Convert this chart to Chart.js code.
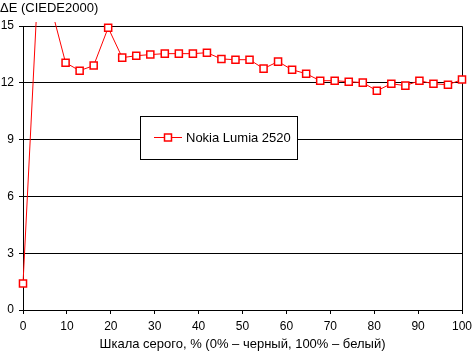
<!DOCTYPE html>
<html>
<head>
<meta charset="utf-8">
<script src="https://cdn.jsdelivr.net/npm/chart.js@4"></script>
<style>
html,body{margin:0;padding:0;background:#fff;}
canvas{display:block;}
</style>
</head>
<body>
<canvas id="c" width="472" height="352"></canvas>
<script>
const seriesName = 'Nokia Lumia 2520';
const yAxisTitle = 'ΔE (CIEDE2000)';
const xAxisTitle = 'Шкала серого, % (0% – черный, 100% – белый)';
const grayLevels = [0, 3.2, 6.5, 9.7, 12.9, 16.1, 19.4, 22.6, 25.8, 29.0, 32.3, 35.5, 38.7, 41.9, 45.2, 48.4, 51.6, 54.8, 58.1, 61.3, 64.5, 67.7, 71.0, 74.2, 77.4, 80.6, 83.9, 87.1, 90.3, 93.5, 96.8, 100];
const deltaE = [1.4, 16.2, 15.9, 13.06, 12.64, 12.91, 14.91, 13.33, 13.43, 13.49, 13.54, 13.54, 13.54, 13.59, 13.26, 13.22, 13.22, 12.75, 13.12, 12.69, 12.48, 12.11, 12.11, 12.06, 12.01, 11.58, 11.95, 11.85, 12.11, 11.95, 11.90, 12.17];
const xTicks = {min: 0, max: 100, step: 10};
const yTicks = {min: 0, max: 15, step: 3};

const FONT = '"Liberation Sans", Arial, sans-serif';
Chart.defaults.font.family = FONT;
Chart.defaults.color = '#000';

const framePlugin = {
  id: 'frame',
  beforeDatasetsDraw(chart) {
    const {ctx, chartArea: a} = chart;
    ctx.save();
    ctx.strokeStyle = '#000';
    ctx.lineWidth = 1;
    ctx.beginPath();
    const r = Math.round(a.right) + 0.5;
    const t = Math.round(a.top) + 0.5;
    ctx.moveTo(Math.round(a.left) + 0.5, t);
    ctx.lineTo(r, t);
    ctx.lineTo(r, Math.round(a.bottom) + 0.5);
    ctx.stroke();
    ctx.restore();
  },
  afterDraw(chart) {
    const {ctx} = chart;
    ctx.save();
    ctx.font = '13px ' + FONT;
    ctx.fillStyle = '#000';
    ctx.textBaseline = 'middle';
    ctx.textAlign = 'left';
    ctx.fillText(yAxisTitle, 0, 8);
    const bx = 140.5, by = 116.5, bw = 157, bh = 43;
    ctx.fillStyle = '#fff';
    ctx.fillRect(bx, by, bw, bh);
    ctx.strokeStyle = '#000';
    ctx.lineWidth = 1;
    ctx.strokeRect(bx, by, bw, bh);
    const ly = 137.5;
    ctx.strokeStyle = '#ff0000';
    ctx.beginPath();
    ctx.moveTo(154, ly);
    ctx.lineTo(182, ly);
    ctx.stroke();
    ctx.fillStyle = '#fff';
    ctx.fillRect(164.5, ly - 3.5, 7, 7);
    ctx.lineWidth = 1.5;
    ctx.strokeRect(164.5, ly - 3.5, 7, 7);
    ctx.fillStyle = '#000';
    ctx.font = '13px ' + FONT;
    ctx.fillText(seriesName, 186, ly + 1);
    ctx.restore();
  }
};

new Chart(document.getElementById('c'), {
  type: 'line',
  data: {
    datasets: [{
      label: seriesName,
      data: grayLevels.map((x, i) => ({x: x, y: deltaE[i]})),
      borderColor: '#ff0000',
      borderWidth: 1,
      backgroundColor: '#ffffff',
      pointStyle: 'rect',
      pointRadius: 5,
      pointBorderWidth: 1.5,
      pointBorderColor: '#ff0000',
      pointBackgroundColor: '#ffffff',
      tension: 0,
      clip: {left: 6, top: 4, right: 6, bottom: 6}
    }]
  },
  options: {
    responsive: false,
    animation: false,
    events: [],
    layout: {padding: {top: 26, right: 10, left: 0, bottom: 0}},
    plugins: {legend: {display: false}, title: {display: false}, tooltip: {enabled: false}},
    scales: {
      x: {
        type: 'linear',
        min: xTicks.min, max: xTicks.max,
        ticks: {stepSize: xTicks.step, color: '#000', font: {size: 12}, padding: 5, maxRotation: 0, autoSkip: false},
        grid: {drawOnChartArea: false, color: '#000', tickLength: 4, lineWidth: 1},
        border: {color: '#000', width: 1},
        title: {display: true, text: xAxisTitle, color: '#000', font: {size: 13}, padding: {top: 0, bottom: 0}},
        afterFit(s) { s.height = 42; s.paddingRight = 0; }
      },
      y: {
        min: yTicks.min, max: yTicks.max,
        ticks: {stepSize: yTicks.step, color: '#000', font: {size: 12}, padding: 5},
        grid: {color: '#000', tickLength: 4, lineWidth: 1},
        border: {color: '#000', width: 1},
        afterFit(s) { s.width = 23; }
      }
    }
  },
  plugins: [framePlugin]
});
</script>
</body>
</html>
